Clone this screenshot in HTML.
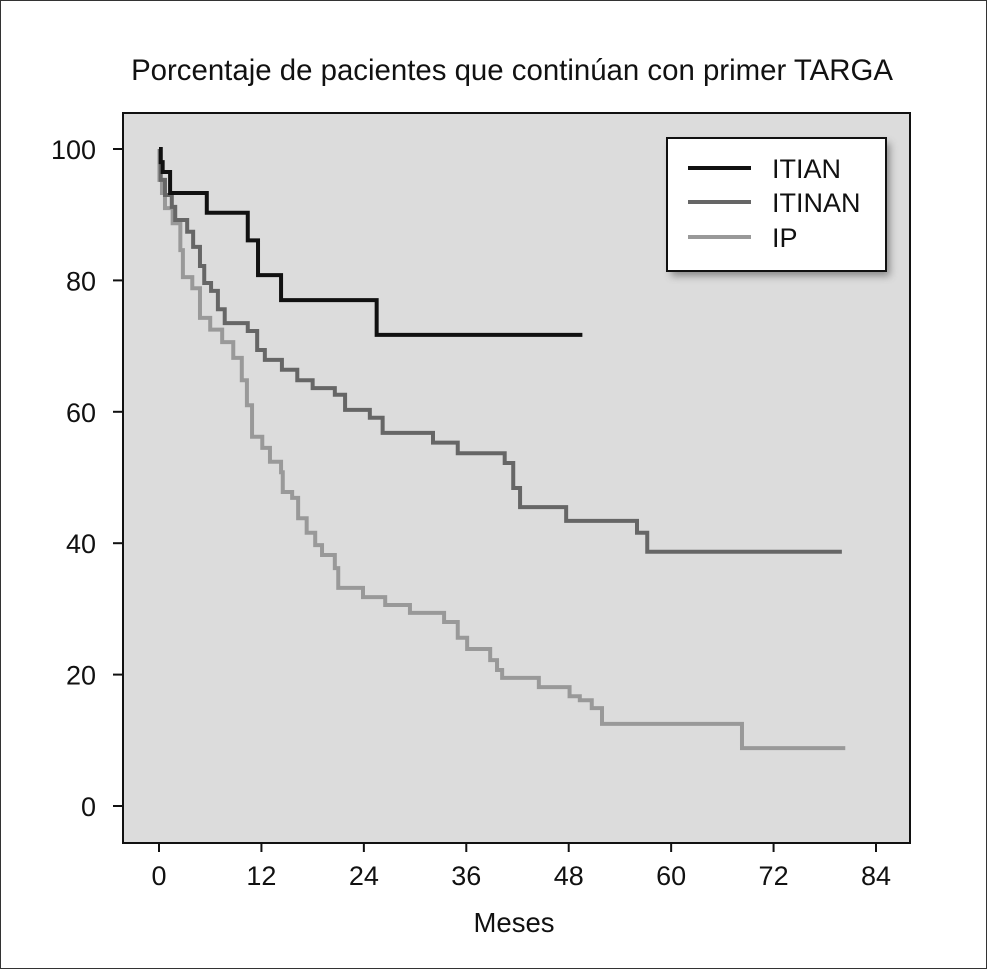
<!DOCTYPE html>
<html><head><meta charset="utf-8"><style>
html,body{margin:0;padding:0;background:#fff}
svg text{font-family:"Liberation Sans",sans-serif;fill:#111}
</style></head><body>
<svg id="chart" width="987" height="969" viewBox="0 0 987 969" xmlns="http://www.w3.org/2000/svg">
<defs><filter id="sh" x="-10%" y="-10%" width="130%" height="130%"><feGaussianBlur stdDeviation="4"/></filter></defs>
<rect x="0.5" y="0.5" width="986" height="968" fill="#fff" stroke="#333" stroke-width="1"/>
<text x="512" y="80" font-size="29.4" text-anchor="middle">Porcentaje de pacientes que continúan con primer TARGA</text>
<rect x="123" y="113" width="787" height="730" fill="#dcdcdc" stroke="#111" stroke-width="2"/>
<g id="axes"></g>
<g id="series"></g>
<g>
<rect x="671" y="143" width="219" height="133" fill="#555" opacity="0.6" filter="url(#sh)"/>
<rect x="667" y="138" width="219" height="133" fill="#fff" stroke="#111" stroke-width="2"/>
<line x1="688" y1="168" x2="751" y2="168" stroke="#111" stroke-width="4"/>
<line x1="688" y1="202" x2="751" y2="202" stroke="#666" stroke-width="4"/>
<line x1="688" y1="237" x2="751" y2="237" stroke="#999" stroke-width="4"/>
<text x="772" y="178" font-size="27">ITIAN</text>
<text x="772" y="212" font-size="27">ITINAN</text>
<text x="772" y="247" font-size="27">IP</text>
</g>
<text x="514" y="932" font-size="27.5" text-anchor="middle">Meses</text>
</svg>
<script>
const xTicks=[0,12,24,36,48,60,72,84];
const yTicks=[0,20,40,60,80,100];
const itianT=[0,0.2,0.43,1.3,5.6,10.4,11.6,14.3,25.5,49.6];
const itianV=[100,98,96.5,93.3,90.3,86.1,80.8,77,71.7,71.7];
const itinanT=[0,0.2,0.7,1.5,1.9,3.3,4.0,4.8,5.3,6.1,6.9,7.7,10.4,11.5,12.4,14.4,16.2,18.0,20.6,21.8,24.7,26.2,32.1,35.0,40.5,41.5,42.3,47.7,56.0,57.2,80.0];
const itinanV=[100,95.3,93.0,91.2,89.2,87.4,85.1,82.2,79.6,78.4,75.6,73.5,72.3,69.4,67.9,66.4,64.8,63.6,62.6,60.3,59.1,56.8,55.3,53.7,52.2,48.4,45.5,43.4,41.6,38.7,38.7];
const ipT=[0,0.05,0.35,0.7,1.6,2.5,2.8,3.9,4.8,6.0,7.4,8.7,9.7,10.3,10.9,12.1,13.0,14.3,14.5,15.6,16.3,17.3,18.3,19.1,20.6,21.0,23.9,26.5,29.4,33.4,35.0,36.1,38.8,39.6,40.2,44.5,48.1,49.3,50.7,51.9,68.3,80.4];
const ipV=[100,95.3,93.3,91.0,88.7,84.6,80.5,78.8,74.3,72.5,70.6,68.2,64.8,61.0,56.2,54.5,52.4,50.8,47.8,46.9,43.8,41.6,39.7,38.2,36.2,33.2,31.8,30.6,29.4,28.0,25.6,23.9,22.2,20.7,19.5,18.1,16.7,16.1,14.9,12.5,8.8,8.8];
const NS='http://www.w3.org/2000/svg';
function xs(m){return 159+m*(876-159)/84;}
function ys(v){return 806-v*(806-149)/100;}
const ax=document.getElementById('axes');
function mk(tag,attrs,parent){const e=document.createElementNS(NS,tag);for(const k in attrs)e.setAttribute(k,attrs[k]);parent.appendChild(e);return e;}
xTicks.forEach(t=>{
 const l=mk('line',{x1:xs(t),x2:xs(t),y1:843,y2:852,stroke:'#111','stroke-width':2},ax);
 
 
 const tx=mk('text',{x:xs(t),y:885,'font-size':27,'text-anchor':'middle'},ax);
 tx.textContent=t;
 
 
});
yTicks.forEach(t=>{
 const l=mk('line',{x1:113,x2:123,y1:ys(t),y2:ys(t),stroke:'#111','stroke-width':2},ax);
 
 
 const tx=mk('text',{x:96,y:ys(t)+10,'font-size':27,'text-anchor':'end'},ax);
 tx.textContent=t;
 
 
});
const sg=document.getElementById('series');
function step(T,V,color,name){
 let d='M'+xs(T[0])+','+ys(V[0]);
 for(let i=1;i<T.length;i++){d+=' H'+xs(T[i])+' V'+ys(V[i]);}
 const p=mk('path',{d:d,fill:'none',stroke:color,'stroke-width':4,'stroke-linejoin':'miter'},sg);
 
 
}
step(ipT,ipV,'#999','line-ip');
step(itinanT,itinanV,'#666','line-itinan');
step(itianT,itianV,'#111','line-itian');
</script>
</body></html>
